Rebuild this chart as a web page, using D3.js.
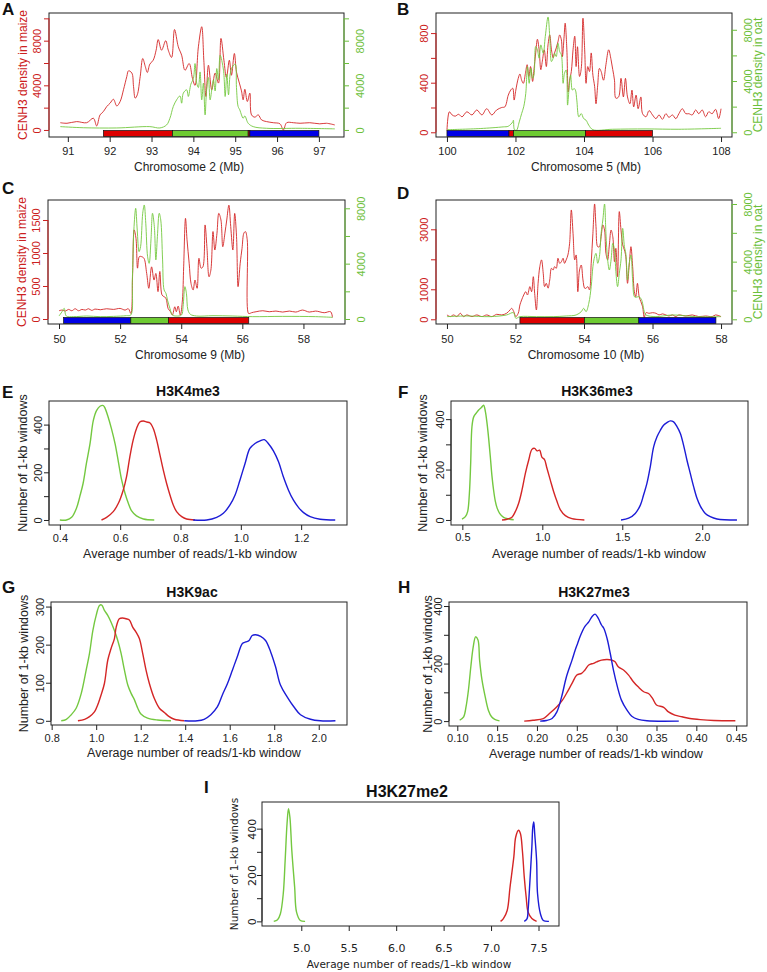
<!DOCTYPE html>
<html lang="en">
<head>
<meta charset="utf-8">
<title>CENH3 density and histone marks</title>
<script src="https://d3js.org/d3.v7.min.js"></script>
<style>
  body { margin: 0; background: #fff; }
</style>
</head>
<body>
<svg id="fig"></svg>
<script>
// ---------- DATA ----------

// A: chromosome 2, [Mb, density]
const chr2Maize = [[90.82,650],[90.98,600],[91.21,750],[91.45,650],[91.61,1050],[91.69,360],[91.77,1350],[91.85,1650],[91.93,2100],[92.01,2400],[92.09,2750],[92.17,2150],[92.25,2550],[92.33,3600],[92.41,4800],[92.45,5300],[92.53,5100],[92.57,3900],[92.61,2850],[92.66,3150],[92.73,4800],[92.79,6400],[92.85,5700],[92.90,5150],[92.96,5900],[93.04,6250],[93.11,7150],[93.16,8100],[93.24,7150],[93.34,8000],[93.40,7150],[93.48,6500],[93.55,9000],[93.64,7450],[93.72,6700],[93.80,5350],[93.90,5950],[93.98,4600],[94.04,4000],[94.12,7450],[94.20,9250],[94.25,6250],[94.30,3000],[94.36,5800],[94.44,3600],[94.52,5100],[94.60,4200],[94.66,8200],[94.73,6250],[94.79,4700],[94.86,6250],[94.91,4900],[94.98,6850],[95.03,5200],[95.10,4200],[95.15,3500],[95.19,2700],[95.23,3650],[95.29,2550],[95.35,3300],[95.39,1350],[95.47,1150],[95.55,1350],[95.63,900],[95.75,750],[95.91,650],[96.07,550],[96.15,0],[96.23,650],[96.39,650],[96.55,600],[96.78,650],[97.02,550],[97.18,600],[97.38,450]];
const chr2Oat = [[90.82,300],[91.37,200],[92.17,180],[92.96,300],[93.20,180],[93.36,450],[93.44,1050],[93.52,2100],[93.60,2700],[93.68,3050],[93.72,2400],[93.76,3300],[93.84,3600],[93.88,3000],[93.94,4100],[94.00,4600],[94.04,5950],[94.08,4200],[94.12,3800],[94.16,5200],[94.20,2700],[94.24,4200],[94.28,1350],[94.32,3800],[94.36,4700],[94.40,2700],[94.44,3600],[94.48,4500],[94.52,3500],[94.56,5500],[94.60,4500],[94.64,6700],[94.72,5350],[94.76,3000],[94.80,5000],[94.84,3150],[94.88,5000],[94.93,5650],[95.00,5900],[95.03,3800],[95.07,2100],[95.11,1800],[95.15,1350],[95.19,1050],[95.23,1250],[95.31,600],[95.43,300],[95.75,150],[96.55,150],[97.38,100]];
const chr2Segs = [[91.85,93.50,'r'],[93.50,95.31,'g'],[95.31,95.35,'r'],[95.35,97.00,'b']];
const chr2Ticks = [91,92,93,94,95,96,97];

// B: chromosome 5
const chr5Maize = [[100.00,15],[100.07,165],[100.15,140],[100.24,130],[100.34,145],[100.44,125],[100.58,165],[100.73,140],[100.87,180],[101.02,140],[101.16,190],[101.31,140],[101.45,180],[101.60,200],[101.69,205],[101.79,300],[101.86,340],[101.92,355],[101.96,260],[102.01,340],[102.08,435],[102.13,470],[102.18,420],[102.23,395],[102.29,475],[102.34,545],[102.39,450],[102.44,530],[102.50,410],[102.54,505],[102.59,640],[102.64,750],[102.69,665],[102.74,505],[102.79,585],[102.84,665],[102.90,530],[102.95,705],[103.00,785],[103.05,665],[103.10,600],[103.14,640],[103.19,680],[103.24,730],[103.29,785],[103.34,745],[103.37,610],[103.42,775],[103.45,880],[103.50,665],[103.54,325],[103.58,420],[103.63,490],[103.68,665],[103.73,775],[103.77,530],[103.81,690],[103.87,450],[103.92,515],[103.97,920],[104.02,665],[104.06,395],[104.11,530],[104.16,490],[104.21,640],[104.26,460],[104.31,370],[104.35,230],[104.40,380],[104.45,515],[104.50,490],[104.57,420],[104.64,545],[104.72,665],[104.79,585],[104.84,505],[104.89,420],[104.93,275],[105.01,285],[105.08,435],[105.15,285],[105.21,435],[105.27,285],[105.34,230],[105.40,340],[105.45,205],[105.52,300],[105.58,190],[105.66,285],[105.71,150],[105.81,125],[105.90,175],[106.00,140],[106.10,110],[106.19,140],[106.29,105],[106.39,150],[106.48,120],[106.58,140],[106.68,110],[106.77,150],[106.87,190],[106.97,150],[107.06,150],[107.16,140],[107.26,180],[107.35,150],[107.45,180],[107.55,125],[107.64,165],[107.74,150],[107.84,185],[107.93,110],[108.00,190]];
const chr5Oat = [[100.00,200],[100.97,290],[101.64,420],[101.79,470],[101.92,810],[101.94,940],[101.97,200],[102.03,160],[102.11,810],[102.18,1460],[102.24,1990],[102.30,3030],[102.35,5120],[102.40,3820],[102.45,4990],[102.50,4210],[102.54,4470],[102.59,6690],[102.64,6430],[102.69,5780],[102.74,6820],[102.81,6170],[102.87,7480],[102.95,9000],[103.00,7480],[103.05,5520],[103.10,5780],[103.14,6170],[103.19,5910],[103.24,6950],[103.29,6300],[103.34,6040],[103.39,3820],[103.43,4600],[103.48,4860],[103.52,2120],[103.56,3290],[103.61,4470],[103.66,3290],[103.71,3420],[103.75,3290],[103.79,2510],[103.85,1200],[103.92,1460],[103.99,1070],[104.06,940],[104.14,550],[104.26,200],[104.84,235],[105.81,260],[106.77,235],[108.00,310]];
const chr5Segs = [[100.00,101.81,'b'],[101.81,101.94,'r'],[101.94,104.04,'g'],[104.04,106.00,'r']];
const chr5Ticks = [100,102,104,106,108];

// C: chromosome 9
const chr9Maize = [[50.00,125],[50.10,135],[50.21,120],[50.31,145],[50.42,125],[50.53,155],[50.64,125],[50.75,145],[50.86,135],[50.97,155],[51.07,130],[51.18,150],[51.35,140],[51.56,155],[51.78,145],[52.00,160],[52.16,135],[52.27,155],[52.35,85],[52.41,690],[52.46,1350],[52.52,1220],[52.57,770],[52.63,945],[52.70,945],[52.78,920],[52.87,690],[52.94,465],[53.03,790],[53.11,590],[53.17,690],[53.24,415],[53.30,720],[53.37,365],[53.43,340],[53.50,315],[53.57,160],[53.65,110],[53.71,60],[53.79,185],[53.84,110],[53.90,195],[53.97,60],[54.04,290],[54.08,790],[54.14,1525],[54.19,1200],[54.26,845],[54.32,540],[54.39,440],[54.45,590],[54.52,465],[54.58,920],[54.65,770],[54.71,790],[54.78,1425],[54.84,1095],[54.91,640],[54.97,740],[55.04,1325],[55.10,1045],[55.17,1300],[55.23,1600],[55.30,1500],[55.36,1095],[55.43,1300],[55.49,1500],[55.56,1725],[55.62,1400],[55.69,1045],[55.75,1600],[55.81,1250],[55.86,490],[55.93,845],[55.99,1070],[56.05,1300],[56.10,1325],[56.16,1200],[56.20,85],[56.25,85],[56.30,95],[56.45,110],[56.67,125],[56.88,110],[57.10,120],[57.32,105],[57.54,120],[57.75,105],[57.97,135],[58.19,105],[58.40,120],[58.68,95],[58.89,110],[58.95,25]];
const chr9Oat = [[50.00,215],[50.10,530],[50.17,770],[50.24,215],[50.48,170],[50.91,215],[51.35,170],[51.78,190],[52.21,240],[52.35,290],[52.40,2820],[52.45,6430],[52.51,8000],[52.56,6430],[52.62,4870],[52.67,5230],[52.74,7640],[52.79,8240],[52.84,6920],[52.90,4500],[52.95,4020],[53.01,5710],[53.06,7640],[53.12,6680],[53.17,4270],[53.22,5950],[53.28,7640],[53.33,7160],[53.39,4270],[53.44,2100],[53.50,1860],[53.55,1370],[53.63,770],[53.71,290],[53.84,215],[54.01,290],[54.06,890],[54.12,2340],[54.17,1860],[54.22,650],[54.30,340],[54.50,215],[55.04,240],[55.69,215],[56.34,170],[57.32,190],[58.40,170],[58.95,120]];
const chr9Segs = [[50.15,52.35,'b'],[52.35,53.58,'g'],[53.58,56.21,'r']];
const chr9Ticks = [50,52,54,56,58];

// D: chromosome 10
const chr10Maize = [[50.00,145],[50.10,90],[50.19,145],[50.29,90],[50.39,200],[50.48,90],[50.58,145],[50.73,90],[50.87,145],[51.02,90],[51.16,145],[51.31,90],[51.45,165],[51.60,145],[51.74,200],[51.84,310],[51.89,365],[51.95,255],[52.01,90],[52.08,200],[52.13,480],[52.18,645],[52.24,810],[52.30,920],[52.35,810],[52.42,1090],[52.47,920],[52.52,1420],[52.56,865],[52.61,310],[52.66,1200],[52.71,1755],[52.76,1980],[52.81,1535],[52.85,1090],[52.90,1200],[52.95,1035],[53.00,1310],[53.05,1700],[53.10,1645],[53.14,1755],[53.19,1700],[53.24,2035],[53.29,1865],[53.34,1920],[53.39,2035],[53.43,1865],[53.48,1980],[53.53,2145],[53.58,2535],[53.63,3645],[53.68,2865],[53.73,1980],[53.77,2145],[53.82,920],[53.87,1645],[53.92,1810],[53.97,1310],[54.02,1035],[54.06,1035],[54.11,1090],[54.16,980],[54.21,1865],[54.26,2865],[54.31,3845],[54.35,3090],[54.40,2420],[54.45,2420],[54.50,2755],[54.55,3145],[54.60,2975],[54.64,2200],[54.69,1980],[54.74,2480],[54.79,2975],[54.84,2755],[54.89,1920],[54.93,2365],[54.98,1420],[55.03,3590],[55.08,2975],[55.13,2480],[55.18,2310],[55.22,2090],[55.27,1200],[55.32,1810],[55.37,2420],[55.42,1755],[55.47,920],[55.51,755],[55.56,1200],[55.61,755],[55.66,590],[55.71,420],[55.76,65],[55.81,220],[55.90,200],[56.00,220],[56.10,200],[56.19,145],[56.29,180],[56.39,145],[56.48,110],[56.58,145],[56.68,90],[56.77,145],[56.97,110],[57.16,145],[57.35,90],[57.55,110],[57.74,90],[57.84,145],[58.00,90]];
const chr10Oat = [[50.00,185],[50.58,230],[51.26,185],[51.74,300],[51.94,460],[52.01,70],[52.13,185],[52.61,185],[53.10,185],[53.48,230],[53.77,300],[53.92,530],[53.99,760],[54.06,530],[54.14,1110],[54.21,2265],[54.26,3655],[54.31,4345],[54.35,4580],[54.40,3885],[54.45,4345],[54.50,5965],[54.55,6890],[54.60,8000],[54.64,5965],[54.69,4115],[54.74,3420],[54.79,4115],[54.84,5270],[54.89,4810],[54.93,3305],[54.98,2265],[55.03,3190],[55.08,4115],[55.13,6310],[55.18,5040],[55.22,4580],[55.27,2730],[55.32,3885],[55.37,4460],[55.42,2730],[55.47,1570],[55.51,1525],[55.59,1570],[55.66,1455],[55.71,1110],[55.76,530],[55.81,300],[56.10,185],[56.58,300],[57.26,185],[58.00,185]];
const chr10Segs = [[52.13,54.01,'r'],[54.01,55.60,'g'],[55.60,57.85,'b']];
const chr10Ticks = [50,52,54,56,58];

// E: H3K4me3, [reads per 1-kb window, number of windows]
const k4Green = [[0.400,0],[0.422,0],[0.439,11],[0.455,49],[0.466,98],[0.477,153],[0.488,237],[0.500,320],[0.511,418],[0.522,460],[0.533,477],[0.544,480],[0.549,471],[0.560,432],[0.571,383],[0.583,320],[0.594,244],[0.605,167],[0.616,112],[0.627,70],[0.638,38],[0.654,17],[0.677,4],[0.713,0]];
const k4Red = [[0.538,0],[0.555,11],[0.577,35],[0.594,70],[0.610,125],[0.621,181],[0.632,265],[0.643,335],[0.654,383],[0.665,411],[0.677,415],[0.688,411],[0.699,407],[0.710,383],[0.721,335],[0.732,272],[0.743,209],[0.754,153],[0.765,105],[0.776,63],[0.787,35],[0.804,14],[0.820,4],[0.848,0]];
const k4Blue = [[0.842,0],[0.887,0],[0.920,11],[0.942,28],[0.964,63],[0.981,105],[0.997,167],[1.014,237],[1.030,300],[1.047,321],[1.064,332],[1.078,337],[1.091,321],[1.108,290],[1.125,244],[1.141,181],[1.158,125],[1.174,84],[1.191,53],[1.208,31],[1.230,14],[1.263,3],[1.313,0]];

// F: H3K36me3
const k36Green = [[0.498,3],[0.519,13],[0.533,33],[0.544,106],[0.552,224],[0.560,370],[0.571,409],[0.588,425],[0.602,436],[0.619,446],[0.633,455],[0.644,430],[0.654,385],[0.665,320],[0.675,250],[0.685,175],[0.696,115],[0.706,75],[0.717,48],[0.733,26],[0.758,10],[0.790,4],[0.821,1]];
const k36Red = [[0.748,0],[0.779,3],[0.810,11],[0.831,33],[0.852,66],[0.873,119],[0.894,185],[0.915,238],[0.935,280],[0.952,284],[0.967,274],[0.983,277],[0.998,248],[1.013,240],[1.029,205],[1.050,158],[1.071,112],[1.092,73],[1.113,40],[1.144,17],[1.185,5],[1.263,0]];
const k36Blue = [[1.492,0],[1.540,7],[1.581,26],[1.613,59],[1.633,99],[1.654,145],[1.675,211],[1.696,290],[1.717,330],[1.738,356],[1.758,376],[1.779,386],[1.800,393],[1.821,389],[1.842,370],[1.863,343],[1.883,297],[1.904,238],[1.925,185],[1.946,132],[1.967,86],[1.988,55],[2.019,26],[2.050,13],[2.092,4],[2.217,0]];

// G: H3K9ac
const k9Green = [[0.843,0],[0.866,4],[0.888,16],[0.910,33],[0.933,72],[0.955,133],[0.970,177],[0.985,237],[1.000,277],[1.015,303],[1.025,304],[1.037,290],[1.052,277],[1.067,259],[1.082,237],[1.097,211],[1.112,177],[1.127,133],[1.142,94],[1.157,72],[1.172,55],[1.187,33],[1.201,18],[1.231,7],[1.276,2],[1.336,0]];
const k9Red = [[0.918,0],[0.948,4],[0.970,11],[0.993,24],[1.007,42],[1.022,68],[1.037,98],[1.052,159],[1.067,190],[1.082,216],[1.090,246],[1.104,268],[1.119,270],[1.134,268],[1.149,265],[1.164,246],[1.179,233],[1.194,216],[1.209,177],[1.224,133],[1.239,98],[1.261,59],[1.284,33],[1.306,22],[1.328,11],[1.351,4],[1.396,0]];
const k9Blue = [[1.396,0],[1.455,0],[1.485,4],[1.515,16],[1.545,37],[1.567,68],[1.590,98],[1.612,133],[1.634,168],[1.657,203],[1.672,207],[1.687,211],[1.701,224],[1.716,226],[1.739,222],[1.761,211],[1.784,181],[1.806,142],[1.828,94],[1.858,63],[1.888,37],[1.918,16],[1.963,4],[2.007,0],[2.075,0]];

// H: H3K27me3
const k27m3Green = [[0.103,3],[0.108,15],[0.111,50],[0.114,108],[0.117,189],[0.120,258],[0.123,293],[0.126,282],[0.128,212],[0.131,143],[0.135,85],[0.139,38],[0.143,15],[0.147,6],[0.153,1]];
const k27m3Red = [[0.184,0],[0.195,3],[0.208,9],[0.216,27],[0.225,50],[0.232,73],[0.237,96],[0.244,131],[0.250,160],[0.256,166],[0.260,177],[0.265,195],[0.271,201],[0.275,206],[0.281,212],[0.288,214],[0.294,212],[0.298,206],[0.302,189],[0.309,177],[0.315,160],[0.321,137],[0.327,119],[0.334,102],[0.340,96],[0.345,79],[0.350,56],[0.359,48],[0.365,32],[0.373,21],[0.382,15],[0.392,9],[0.405,5],[0.422,2],[0.449,1]];
const k27m3Blue = [[0.204,0],[0.212,2],[0.219,9],[0.225,32],[0.231,85],[0.237,154],[0.244,212],[0.248,247],[0.251,270],[0.254,293],[0.260,328],[0.265,345],[0.269,363],[0.273,372],[0.277,357],[0.281,334],[0.284,322],[0.288,287],[0.292,235],[0.296,177],[0.301,119],[0.306,73],[0.313,38],[0.319,17],[0.327,6],[0.338,1],[0.378,0]];

// I: H3K27me2
const k27m2Green = [[4.71,0],[4.75,7],[4.78,33],[4.81,119],[4.83,263],[4.85,422],[4.865,486],[4.88,450],[4.90,307],[4.93,148],[4.95,40],[4.99,4],[5.04,0]];
const k27m2Red = [[7.10,0],[7.13,12],[7.17,47],[7.20,148],[7.24,278],[7.26,364],[7.29,393],[7.31,378],[7.33,306],[7.35,191],[7.37,105],[7.39,40],[7.43,12],[7.48,0]];
const k27m2Blue = [[7.35,0],[7.38,12],[7.39,47],[7.41,177],[7.43,321],[7.44,407],[7.45,429],[7.46,378],[7.48,263],[7.49,119],[7.52,33],[7.55,4],[7.61,0]];

// ---------- STYLE ----------
const FONT = '"Liberation Sans", Arial, sans-serif';
const FONT_I = '"DejaVu Sans", Verdana, sans-serif';
const lineCol = { red: '#d42626', green: '#74c840', blue: '#1c1cd6' };
const axisCol = { red: '#cc2020', green: '#6cc03a' };
const barCol = { r: '#dd0000', g: '#6ecb32', b: '#0000e6' };
const smooth = d3.curveCatmullRom.alpha(0.5);

const svg = d3.select('#fig').attr('width', 767).attr('height', 972);

// ---------- HELPERS ----------
function xAxis(g, scale, y, ticks, fmt, labBase, font, size) {
  const a = g.append('g').attr('transform', `translate(0,${y})`)
    .call(d3.axisBottom(scale).tickValues(ticks).tickSize(5).tickFormat(fmt));
  a.select('.domain').remove();
  a.attr('font-family', font).attr('font-size', size);
  a.selectAll('.tick line').attr('stroke', '#222');
  a.selectAll('.tick text').attr('y', labBase).attr('dy', 0).attr('fill', '#222');
}

function yAxis(g, scale, side, xpos, ticks, labels, color, fmt, labOff, font, size) {
  const ax = (side === 'left' ? d3.axisLeft(scale) : d3.axisRight(scale))
    .tickValues(ticks).tickSize(5)
    .tickFormat(d => labels.includes(d) ? fmt(d) : '');
  const a = g.append('g').attr('transform', `translate(${xpos},0)`).call(ax);
  a.select('.domain').remove();
  a.attr('font-family', font).attr('font-size', size);
  a.append('line')
    .attr('y1', scale(ticks[0])).attr('y2', scale(ticks[ticks.length - 1]))
    .attr('stroke', color);
  a.selectAll('.tick line').attr('stroke', color);
  a.selectAll('.tick text')
    .attr('x', 0).attr('dy', 0).attr('fill', color)
    .attr('text-anchor', 'middle')
    .attr('transform', `translate(${side === 'left' ? -labOff : labOff},0) rotate(-90)`);
}

function vTitle(g, text, cx, cy, color, size, font) {
  g.append('text')
    .attr('transform', `translate(${cx + 0.35 * size},${cy}) rotate(-90)`)
    .attr('text-anchor', 'middle')
    .attr('font-family', font).attr('font-size', size)
    .attr('fill', color).text(text);
}

function letter(text, x, y) {
  svg.append('text').attr('x', x).attr('y', y)
    .attr('font-family', FONT).attr('font-weight', 'bold').attr('font-size', 17)
    .attr('fill', '#111').text(text);
}

function box(g, b) {
  g.append('rect').attr('x', b.l).attr('y', b.t)
    .attr('width', b.r - b.l).attr('height', b.b - b.t)
    .attr('fill', 'none').attr('stroke', '#222').attr('stroke-width', 1);
}

// ---------- CENH3 PANELS ----------
function chromPanel(p) {
  const b = p.box;
  const g = svg.append('g');
  const x = d3.scaleLinear().domain(p.xDom).range([b.l, b.r]);
  const yR = d3.scaleLinear().domain(p.redDom).range([b.b, b.t]);
  const yG = d3.scaleLinear().domain(p.greenDom).range([b.b, b.t]);

  g.append('path').datum(p.maize)
    .attr('d', d3.line().curve(smooth).x(d => x(d[0])).y(d => yR(d[1])))
    .attr('fill', 'none').attr('stroke', lineCol.red).attr('stroke-width', 0.9);
  g.append('path').datum(p.oat)
    .attr('d', d3.line().curve(smooth).x(d => x(d[0])).y(d => yG(d[1])))
    .attr('fill', 'none').attr('stroke', lineCol.green).attr('stroke-width', 0.9);

  g.selectAll('rect.seg').data(p.segs).join('rect').attr('class', 'seg')
    .attr('x', d => x(d[0])).attr('width', d => x(d[1]) - x(d[0]))
    .attr('y', b.b - 6.5).attr('height', 6)
    .attr('fill', d => barCol[d[2]])
    .attr('stroke', '#111').attr('stroke-width', 0.7);

  box(g, b);
  xAxis(g, x, b.b, p.xTicks, d3.format('d'), p.xLab, FONT, 11);
  yAxis(g, yR, 'left', b.l, p.redTicks, p.redLabels, axisCol.red, d3.format('d'), 8, FONT, 11);
  yAxis(g, yG, 'right', b.r, p.greenTicks, p.greenLabels, axisCol.green, d3.format('d'), 20, FONT, 11);

  g.append('text').attr('x', p.xTitleX).attr('y', b.b + p.xTitleY)
    .attr('text-anchor', 'middle').attr('font-family', FONT).attr('font-size', 12)
    .attr('fill', '#222').text(p.xTitle);
  if (p.leftTitle) vTitle(g, p.leftTitle, b.l - 26, (b.t + b.b) / 2, axisCol.red, 12, FONT);
  if (p.rightTitle) vTitle(g, p.rightTitle, b.r + 26, (b.t + b.b) / 2, axisCol.green, 12, FONT);
}

chromPanel({
  box: { l: 49, r: 344, t: 13, b: 137 }, xDom: [90.55, 97.6],
  redDom: [-630, 10480], greenDom: [-630, 10480],
  maize: chr2Maize, oat: chr2Oat, segs: chr2Segs, xTicks: chr2Ticks, xLab: 18,
  redTicks: [0, 2000, 4000, 6000, 8000, 10000], redLabels: [0, 4000, 8000],
  greenTicks: [0, 2000, 4000, 6000, 8000, 10000], greenLabels: [0, 4000, 8000],
  xTitle: 'Chromosome 2 (Mb)', xTitleX: 189, xTitleY: 34,
  leftTitle: 'CENH3 density in maize'
});
chromPanel({
  box: { l: 436, r: 732, t: 13, b: 137 }, xDom: [99.68, 108.32],
  redDom: [-38, 962], greenDom: [-370, 9310],
  maize: chr5Maize, oat: chr5Oat, segs: chr5Segs, xTicks: chr5Ticks, xLab: 18,
  redTicks: [0, 200, 400, 600, 800], redLabels: [0, 400, 800],
  greenTicks: [0, 2000, 4000, 6000, 8000], greenLabels: [0, 4000, 8000],
  xTitle: 'Chromosome 5 (Mb)', xTitleX: 586, xTitleY: 34,
  rightTitle: 'CENH3 density in oat'
});
chromPanel({
  box: { l: 48, r: 345, t: 200, b: 324 }, xDom: [49.64, 59.36],
  redDom: [-76, 1803], greenDom: [-361, 8600],
  maize: chr9Maize, oat: chr9Oat, segs: chr9Segs, xTicks: chr9Ticks, xLab: 19,
  redTicks: [0, 500, 1000, 1500], redLabels: [0, 500, 1000, 1500],
  greenTicks: [0, 2000, 4000, 6000, 8000], greenLabels: [0, 4000, 8000],
  xTitle: 'Chromosome 9 (Mb)', xTitleX: 190, xTitleY: 35,
  leftTitle: 'CENH3 density in maize'
});
chromPanel({
  box: { l: 436, r: 732, t: 200, b: 324 }, xDom: [49.68, 58.32],
  redDom: [-157, 3977], greenDom: [-326, 8278],
  maize: chr10Maize, oat: chr10Oat, segs: chr10Segs, xTicks: chr10Ticks, xLab: 19,
  redTicks: [0, 1000, 2000, 3000], redLabels: [0, 1000, 3000],
  greenTicks: [0, 2000, 4000, 6000, 8000], greenLabels: [0, 4000, 8000],
  xTitle: 'Chromosome 10 (Mb)', xTitleX: 586, xTitleY: 35,
  rightTitle: 'CENH3 density in oat'
});

// ---------- HISTONE MARK PANELS ----------
function distPanel(p) {
  const b = p.box;
  const g = svg.append('g');
  const font = p.font || FONT;
  const x = d3.scaleLinear().domain(p.xDom).range([b.l, b.r]);
  const y = d3.scaleLinear().domain(p.yDom).range([b.b, b.t]);
  const line = d3.line().curve(smooth).x(d => x(d[0])).y(d => y(d[1]));

  p.series.forEach(s => {
    g.append('path').datum(s.data).attr('d', line)
      .attr('fill', 'none').attr('stroke', lineCol[s.col]).attr('stroke-width', 1.4);
  });

  box(g, b);
  xAxis(g, x, b.b, p.xTicks, p.xFmt, p.xLab, font, 11);
  yAxis(g, y, 'left', b.l, p.yTicks, p.yLabels, '#222', d3.format('d'), p.yLab || 7, font, 11);

  g.append('text').attr('x', p.titleX).attr('y', b.t - 5)
    .attr('text-anchor', 'middle').attr('font-family', FONT)
    .attr('font-weight', 'bold').attr('font-size', p.titleSize || 14)
    .attr('fill', '#111').text(p.title);
  g.append('text').attr('x', p.titleX + 2).attr('y', b.b + p.xTitleY)
    .attr('text-anchor', 'middle').attr('font-family', font)
    .attr('font-size', p.axisTitleSize || 12.5).attr('fill', '#222').text(p.xTitle);
  vTitle(g, p.yTitle, b.l - p.yTitleOff, (b.t + b.b) / 2, '#222', p.axisTitleSize || 12.5, font);
}

const xTitleStd = 'Average number of reads/1-kb window';
const yTitleStd = 'Number of 1-kb windows';

distPanel({
  box: { l: 49, r: 347, t: 401, b: 525 }, xDom: [0.364, 1.352], yDom: [-21, 499],
  series: [{ data: k4Green, col: 'green' }, { data: k4Red, col: 'red' }, { data: k4Blue, col: 'blue' }],
  xTicks: [0.4, 0.6, 0.8, 1.0, 1.2], xFmt: d3.format('.1f'), xLab: 17,
  yTicks: [0, 100, 200, 300, 400], yLabels: [0, 200, 400],
  title: 'H3K4me3', titleX: 188, xTitle: xTitleStd, xTitleY: 33,
  yTitle: yTitleStd, yTitleOff: 26
});
distPanel({
  box: { l: 451, r: 748, t: 401, b: 525 }, xDom: [0.429, 2.286], yDom: [-20, 472],
  series: [{ data: k36Green, col: 'green' }, { data: k36Red, col: 'red' }, { data: k36Blue, col: 'blue' }],
  xTicks: [0.5, 1.0, 1.5, 2.0], xFmt: d3.format('.1f'), xLab: 16,
  yTicks: [0, 100, 200, 300, 400], yLabels: [0, 200, 400],
  title: 'H3K36me3', titleX: 597, xTitle: xTitleStd, xTitleY: 33,
  yTitle: yTitleStd, yTitleOff: 28
});
distPanel({
  box: { l: 51, r: 347, t: 602, b: 725 }, xDom: [0.797, 2.127], yDom: [-11, 312],
  series: [{ data: k9Green, col: 'green' }, { data: k9Red, col: 'red' }, { data: k9Blue, col: 'blue' }],
  xTicks: [0.8, 1.0, 1.2, 1.4, 1.6, 1.8, 2.0], xFmt: d3.format('.1f'), xLab: 17,
  yTicks: [0, 100, 200, 300], yLabels: [0, 100, 200, 300],
  title: 'H3K9ac', titleX: 192, xTitle: xTitleStd, xTitleY: 32,
  yTitle: yTitleStd, yTitleOff: 27
});
distPanel({
  box: { l: 449, r: 747, t: 602, b: 726 }, xDom: [0.0896, 0.4636], yDom: [-17, 414],
  series: [{ data: k27m3Green, col: 'green' }, { data: k27m3Red, col: 'red' }, { data: k27m3Blue, col: 'blue' }],
  xTicks: [0.10, 0.15, 0.20, 0.25, 0.30, 0.35, 0.40, 0.45], xFmt: d3.format('.2f'), xLab: 16,
  yTicks: [0, 100, 200, 300, 400], yLabels: [0, 200, 400],
  title: 'H3K27me3', titleX: 594, xTitle: xTitleStd, xTitleY: 32,
  yTitle: yTitleStd, yTitleOff: 21
});
distPanel({
  box: { l: 262, r: 559, t: 802, b: 926 }, xDom: [4.586, 7.716], yDom: [-20, 515],
  series: [{ data: k27m2Green, col: 'green' }, { data: k27m2Red, col: 'red' }, { data: k27m2Blue, col: 'blue' }],
  xTicks: [5.0, 5.5, 6.0, 6.5, 7.0, 7.5], xFmt: d3.format('.1f'), xLab: 26,
  yTicks: [0, 100, 200, 300, 400], yLabels: [0, 200, 400], yLab: 6,
  title: 'H3K27me2', titleX: 407, titleSize: 16, font: FONT_I, axisTitleSize: 10.5,
  xTitle: 'Average number of reads/1\u2013kb window', xTitleY: 42,
  yTitle: 'Number of 1\u2013kb windows', yTitleOff: 28
});

// panel letters
letter('A', 2, 15); letter('B', 397, 15);
letter('C', 2, 194); letter('D', 397, 199);
letter('E', 2, 398); letter('F', 398, 398);
letter('G', 2, 593); letter('H', 398, 593);
letter('I', 204, 793);
</script>
</body>
</html>
